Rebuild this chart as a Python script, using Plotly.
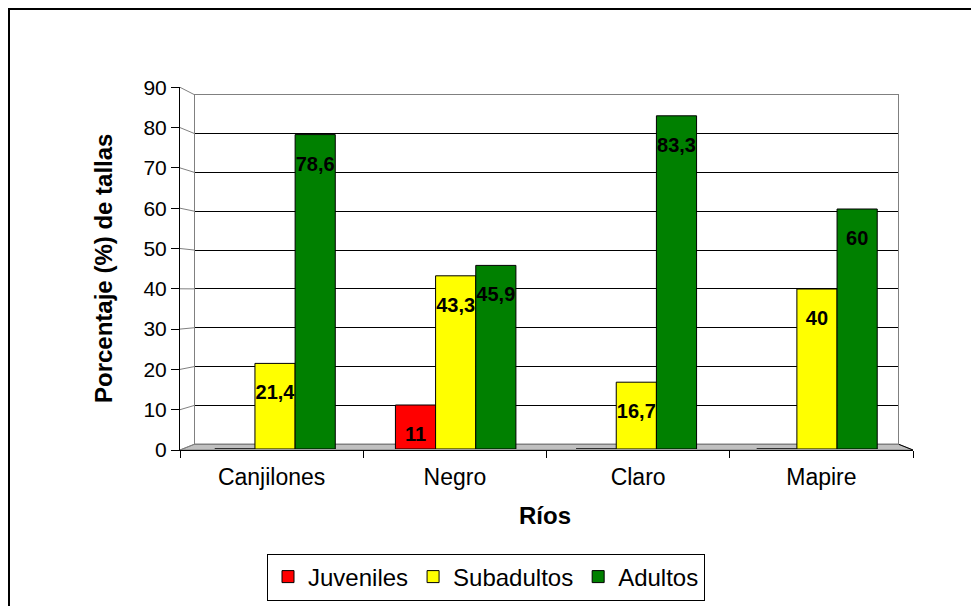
import plotly.graph_objects as go

# ---- data ----
rios = ["Canjilones", "Negro", "Claro", "Mapire"]
juveniles = [0, 11, 0, 0]
subadultos = [21.4, 43.3, 16.7, 40]
adultos = [78.6, 45.9, 83.3, 60]
series_names = ["Juveniles", "Subadultos", "Adultos"]
series_colors = ["#FF0000", "#FFFF00", "#008000"]
y_ticks = [0, 10, 20, 30, 40, 50, 60, 70, 80, 90]

# ---- canvas helpers (pixel -> paper fraction) ----
W, H = 971, 606
FONT = "Liberation Sans, Arial, sans-serif"
BARGAP = 0.333


def fx(p):
    return p / W


def fy(p):
    return 1 - p / H


# pseudo-3D frame: front plane, back wall and bar plane (pixel extents)
FRONT_L, FRONT_R, FRONT_0, FRONT_90 = 180, 913, 450, 87.3
BACK_L, BACK_R, BACK_0, BACK_90 = 195, 898, 444, 95
BAR_L, BAR_R, BAR_0, BAR_90 = 184.7, 907.3, 449, 89

fig = go.Figure()

# invisible trace so the back wall (gridline subplot) is drawn
fig.add_trace(go.Scatter(x=[0, 1], y=[0, 90], mode="markers",
                         marker=dict(color="rgba(0,0,0,0)"),
                         xaxis="x", yaxis="y", showlegend=False,
                         hoverinfo="skip"))

# bars
idx = list(range(len(rios)))
all_series = [juveniles, subadultos, adultos]
for name, vals, col in zip(series_names, all_series, series_colors):
    fig.add_trace(go.Bar(x=idx, y=vals, name=name,
                         marker=dict(color=col, line=dict(color="#000000", width=1)),
                         xaxis="x2", yaxis="y2"))

# value labels placed just under each bar's top
lab_x, lab_y, lab_t = [], [], []
n = len(all_series)
step = (1 - BARGAP) / n
for k, vals in enumerate(all_series):
    for i, v in enumerate(vals):
        if v == 0:
            continue
        lab_x.append(i + (k - (n - 1) / 2) * step)
        lab_y.append(v)
        lab_t.append(f"{v:g}".replace(".", ","))
fig.add_trace(go.Scatter(x=lab_x, y=lab_y, text=lab_t, mode="markers+text",
                         marker=dict(size=32, color="rgba(0,0,0,0)"),
                         textposition="bottom center",
                         textfont=dict(family=FONT, size=20, color="#000000", weight="bold"),
                         xaxis="x2", yaxis="y2", showlegend=False,
                         hoverinfo="skip", cliponaxis=False))

# invisible trace so the front category axis gets its labels
fig.add_trace(go.Scatter(x=rios, y=[0] * len(rios), mode="markers",
                         marker=dict(color="rgba(0,0,0,0)"),
                         xaxis="x3", yaxis="y3", showlegend=False,
                         hoverinfo="skip"))

shapes = []
# outer chart border
shapes.append(dict(type="rect", xref="paper", yref="paper",
                   x0=fx(9), x1=fx(W + 20), y0=fy(H + 20), y1=fy(9),
                   line=dict(color="#000000", width=2), layer="below"))
# floor
shapes.append(dict(type="path", xref="paper", yref="paper",
                   path=(f"M{fx(FRONT_L)},{fy(FRONT_0)} L{fx(BACK_L)},{fy(BACK_0)} "
                         f"L{fx(BACK_R)},{fy(BACK_0)} L{fx(FRONT_R)},{fy(FRONT_0)} Z"),
                   fillcolor="#C0C0C0", line=dict(color="#808080", width=1), layer="below"))
shapes.append(dict(type="line", xref="paper", yref="paper",
                   x0=fx(BACK_R), x1=fx(FRONT_R), y0=fy(BACK_0), y1=fy(FRONT_0),
                   line=dict(color="#000000", width=1), layer="below"))
# side-wall connectors from the front axis ticks to the back-wall gridlines
for t in y_ticks:
    yf = FRONT_0 - (FRONT_0 - FRONT_90) * t / 90
    yb = BACK_0 - (BACK_0 - BACK_90) * t / 90
    shapes.append(dict(type="line", xref="paper", yref="paper",
                       x0=fx(FRONT_L), x1=fx(BACK_L), y0=fy(yf), y1=fy(yb),
                       line=dict(color="#808080", width=1), layer="below"))

annotations = [
    dict(text="<b>Ríos</b>", x=fx(545), y=fy(515), xref="paper", yref="paper",
         showarrow=False, font=dict(family=FONT, size=24, color="#000000"),
         xanchor="center", yanchor="middle"),
    dict(text="<b>Porcentaje (%) de tallas</b>", x=fx(103), y=fy(269),
         xref="paper", yref="paper", showarrow=False, textangle=-90,
         font=dict(family=FONT, size=24, color="#000000"),
         xanchor="center", yanchor="middle"),
]

fig.update_layout(
    width=W, height=H,
    margin=dict(l=0, r=0, t=0, b=0, pad=0, autoexpand=False),
    paper_bgcolor="#FFFFFF", plot_bgcolor="rgba(0,0,0,0)",
    barmode="group", bargap=BARGAP, bargroupgap=0,
    hovermode=False,
    font=dict(family=FONT, color="#000000"),
    shapes=shapes, annotations=annotations,
    # back wall with gridlines
    xaxis=dict(domain=[fx(BACK_L), fx(BACK_R)], range=[0, 1], showgrid=False,
               zeroline=False, showticklabels=False, ticks="",
               showline=True, mirror=True, linecolor="#808080", anchor="y"),
    yaxis=dict(domain=[fy(BACK_0), fy(BACK_90)], range=[0, 90], tickvals=y_ticks,
               showgrid=True, gridcolor="#000000", gridwidth=1, zeroline=False,
               showticklabels=False, ticks="", showline=True, mirror=True,
               linecolor="#808080", anchor="x"),
    # bar plane
    xaxis2=dict(domain=[fx(BAR_L), fx(BAR_R)], range=[-0.5, len(rios) - 0.5],
                visible=False, anchor="y2"),
    yaxis2=dict(domain=[fy(BAR_0), fy(BAR_90)], range=[0, 90], visible=False,
                anchor="x2"),
    # front axes
    xaxis3=dict(domain=[fx(FRONT_L), fx(FRONT_R)], type="category",
                categoryorder="array", categoryarray=rios,
                range=[-0.5, len(rios) - 0.5],
                tickson="boundaries", ticks="outside", ticklen=7, tickcolor="#000000",
                ticklabelstandoff=6,
                showline=True, linecolor="#000000", showgrid=False, zeroline=False,
                tickfont=dict(family=FONT, size=23, color="#000000"), anchor="y3"),
    yaxis3=dict(domain=[fy(FRONT_0), fy(FRONT_90)], range=[0, 90], tickvals=y_ticks,
                ticks="outside", ticklen=8, tickcolor="#000000",
                showline=True, linecolor="#000000", showgrid=False, zeroline=False,
                tickfont=dict(family=FONT, size=21, color="#000000"), anchor="x3"),
    legend=dict(orientation="h", x=fx(486), y=fy(577), xanchor="center",
                yanchor="middle", bordercolor="#000000", borderwidth=1,
                bgcolor="#FFFFFF", font=dict(family=FONT, size=24, color="#000000"),
                itemclick=False, itemdoubleclick=False, tracegroupgap=0),
)

fig.write_html("out.html")
